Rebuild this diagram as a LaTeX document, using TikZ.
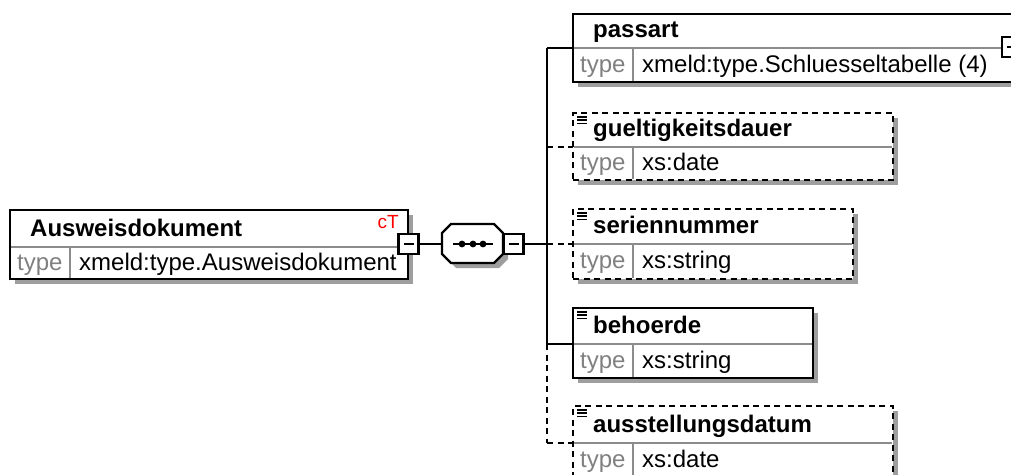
\documentclass[tikz,border=0pt]{standalone}
\usepackage{fontspec}
\setmainfont{Liberation Sans}
\usetikzlibrary{fit,shadows}
\tikzset{
 shd/.style={general shadow={fill=black!38, shadow xshift=5pt, shadow yshift=-5pt}},
 bx/.style={draw=black, line width=2.8pt, fill=white, inner sep=0pt, shd},
 opt/.style={dash pattern=on 6pt off 4.5pt},
 dv/.style={draw=black!45, line width=2.2pt},
 con/.style={line width=2.3pt},
 tl/.style={font=\fontsize{24}{28}\selectfont\bfseries, anchor=base west, inner sep=0pt},
 tt/.style={font=\fontsize{24}{28}\selectfont, anchor=base west, inner sep=0pt},
 tg/.style={tt, text=black!50},
 pm/.style={draw, line width=2.4pt, fill=white, minimum size=20pt, inner sep=0pt},
}
\newcommand\elem[9]{%
 \coordinate (#1-nw) at (#2,#3); \coordinate (#1-se) at (#4,#6);
 \node[bx, #7, fit=(#1-nw)(#1-se)] (#1) {};
 \draw[dv] (#2+1.4,#5) -- (#4-1.4,#5);
 \draw[dv] (#2+60,#5) -- (#2+60,#6-1.4);
 \node[tl] (#1-t) at (#2+20,#5-11) {#8};
 \node[tg] (#1-k) at (#2+7,{(#5+#6)/2+7}) {type};
 \node[tt] (#1-v) at (#2+69,{(#5+#6)/2+7}) {#9};
 \coordinate (#1-c) at (#2,#5);
}
\newcommand\ico[2]{%
 \foreach \k in {0,1,2} {\draw[line width=1.6pt] (#1,#2+\k*3.2) -- (#1+10,#2+\k*3.2);}
}
\begin{document}
\begin{tikzpicture}[x=1pt,y=-1pt]
\useasboundingbox (0,0) rectangle (1011,474);
% spine coordinates
\coordinate (sp1) at (547,48);
\coordinate (sp2) at (547,147);
\coordinate (spc) at (547,244);
\coordinate (sp4) at (547,344);
\coordinate (sp5) at (547,443);
% root element
\elem{ad}{10}{210}{408}{247}{279}{}{Ausweisdokument}{xmeld:type.Ausweisdokument}
\node[font=\fontsize{19}{20}\selectfont, text=red, anchor=base east, inner sep=0pt] (ct) at (399,228) {cT};
\node[pm] (adm) at (408.5,244) {};
\draw[line width=2.2pt] ([xshift=-5pt]adm.center) -- ([xshift=5pt]adm.center);
% sequence (octagon)
\node[minimum width=61pt, minimum height=39pt, inner sep=0pt] (oct) at (472.5,244) {};
\fill[black!38] (456,229) -- (499,229) -- (508,238) -- (508,259) -- (499,268) -- (456,268) -- (447,259) -- (447,238) -- cycle;
\draw[line width=2.4pt, fill=white] (451,224) -- (494,224) -- (503,233) -- (503,254) -- (494,263) -- (451,263) -- (442,254) -- (442,233) -- cycle;
\draw[line width=1.8pt] (453,244) -- (493,244);
\foreach \xx in {462,473,483} {\fill (\xx,244) circle[radius=3.4pt];}
\node[pm] (sm) at (513.5,244) {};
\draw[line width=2.2pt] ([xshift=-5pt]sm.center) -- ([xshift=5pt]sm.center);
\draw[con] (adm.east) -- (oct.west);
\draw[con] (sm.east) -- (spc);
% spine
\draw[con] (sp1) -- (sp4);
\draw[con, opt] (sp4) -- (sp5);
% children
\elem{pa}{573}{14}{1013}{48}{82}{}{passart}{xmeld:type.Schluesseltabelle (4)}
\node[pm] (pe) at (1012,47) {};
\draw[line width=2.2pt] ([xshift=-5pt]pe.center) -- ([xshift=5pt]pe.center);
\elem{gu}{573}{113}{893}{147}{180}{opt}{gueltigkeitsdauer}{xs:date}
\ico{577}{117}
\elem{se}{573}{209}{853}{244}{279}{opt}{seriennummer}{xs:string}
\ico{577}{213}
\elem{be}{573}{308}{813}{344}{378}{}{behoerde}{xs:string}
\ico{577}{312}
\elem{au}{573}{406}{893}{443}{477}{opt}{ausstellungsdatum}{xs:date}
\ico{577}{410}
% connectors
\draw[con] (sp1) -- (pa-c);
\draw[con, opt] (sp2) -- (gu-c);
\draw[con, opt] (spc) -- (se-c);
\draw[con] (sp4) -- (be-c);
\draw[con, opt] (sp5) -- (au-c);
\end{tikzpicture}
\end{document}
